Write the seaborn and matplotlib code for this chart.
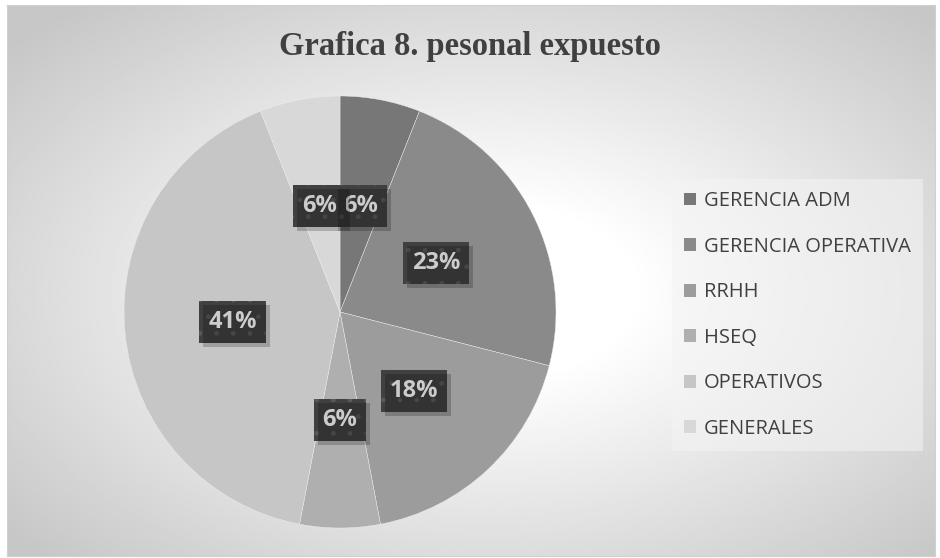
import numpy as np
import matplotlib
matplotlib.use("Agg")
import matplotlib.pyplot as plt
from matplotlib.patches import Rectangle
import seaborn as sns

# data
categories = ["GERENCIA ADM", "GERENCIA OPERATIVA", "RRHH", "HSEQ", "OPERATIVOS", "GENERALES"]
shares = [6, 23, 18, 6, 41, 6]
slice_colors = ["#777777", "#8a8a8a", "#9c9c9c", "#afafaf", "#c6c6c6", "#d8d8d8"]
title = "Grafica 8. pesonal expuesto"

sns.set_theme(style="white")
plt.rcParams["font.family"] = ["Open Sans", "DejaVu Sans"]
plt.rcParams["hatch.linewidth"] = 1.0

W, H = 940, 558
fig = plt.figure(figsize=(W / 100, H / 100), dpi=100)
fig.patch.set_facecolor("white")

# radial gradient background of the chart area
bg = fig.add_axes([7 / W, 2 / H, 928 / W, 551 / H], zorder=0)
yy, xx = np.mgrid[0:1:300j, 0:1:500j]
r = np.sqrt(((xx - 0.52) / 0.62) ** 2 + ((yy - 0.52) / 0.62) ** 2)
r = np.clip((r - 0.25) / 0.85, 0, 1)
shade = 1.0 - r * (1.0 - 0.78)
bg.imshow(shade, cmap="gray", vmin=0, vmax=1, aspect="auto", interpolation="bilinear")
bg.set_xticks([])
bg.set_yticks([])
for s in bg.spines.values():
    s.set_color("#d0d0d0")
    s.set_linewidth(0.8)

# pie axes: center (340, 312) px, radius 216 px
cx, cy, rad = 340, 312, 216
ax = fig.add_axes([(cx - rad) / W, (H - cy - rad) / H, 2 * rad / W, 2 * rad / H], zorder=1)
ax.set_facecolor("none")
palette = sns.color_palette(slice_colors)
wedges, _, autotexts = ax.pie(
    shares, colors=palette, startangle=90, counterclock=False,
    autopct=lambda p: f"{p:.0f}%", pctdistance=0.5,
    wedgeprops=dict(edgecolor="#eeeeee", linewidth=0.3),
)
ax.set_xlim(-1, 1)
ax.set_ylim(-1, 1)
ax.axis("off")

for t in autotexts:
    t.set_color("white")
    t.set_fontsize(17)
    t.set_fontweight("bold")
    t.set_zorder(5)
    t.set_bbox(dict(boxstyle="square,pad=0.38", fc="#404040", ec="#585858",
                    lw=0, hatch="."))

# soft shadows behind the label boxes
fig.canvas.draw()
inv = fig.transFigure.inverted()
for t in autotexts:
    ext = t.get_bbox_patch().get_window_extent()
    (x0, y0), (x1, y1) = inv.transform([[ext.x0 + 4, ext.y0 - 4], [ext.x1 + 4, ext.y1 - 4]])
    fig.add_artist(Rectangle((x0, y0), x1 - x0, y1 - y0, transform=fig.transFigure,
                             fc="black", ec="none", alpha=0.2, zorder=1.5))

fig.text(470 / W, 1 - 46 / H, title, ha="center", va="center",
         fontsize=23.5, fontweight="bold", color="#404040", family="Liberation Serif")

leg = fig.legend(wedges, categories, loc="center left",
                 bbox_to_anchor=(672 / W, 1 - 315 / H),
                 frameon=True, fancybox=False, fontsize=14.5,
                 handlelength=0.6, handleheight=0.6, handletextpad=0.4,
                 labelspacing=1.27, borderpad=0.6, borderaxespad=0,
                 labelcolor="#404040")
leg.get_frame().set_facecolor("#f4f4f4")
leg.get_frame().set_alpha(0.55)
leg.get_frame().set_edgecolor("none")
for h in leg.legend_handles:
    h.set_edgecolor("none")

fig.savefig("out.png", dpi=100)
